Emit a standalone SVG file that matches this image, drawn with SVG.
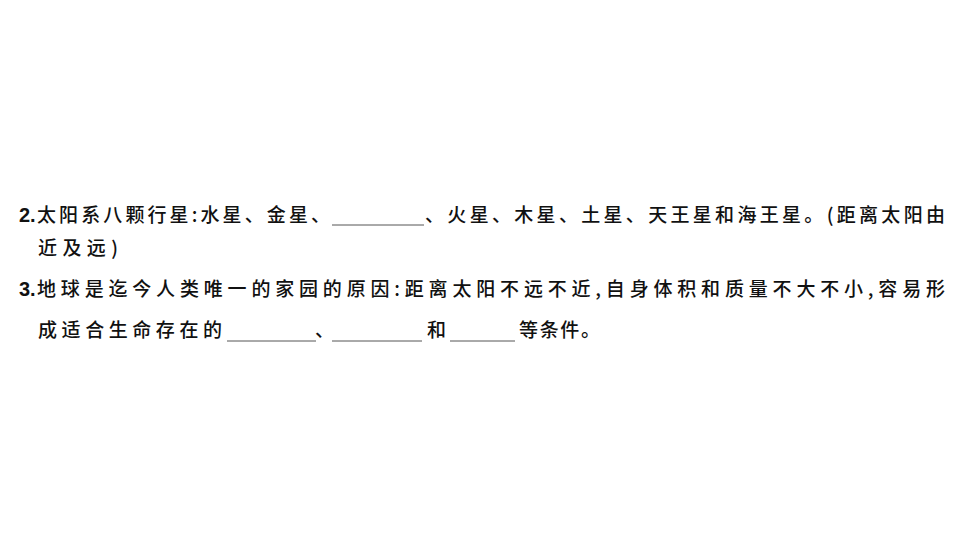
<svg xmlns="http://www.w3.org/2000/svg" width="960" height="540" viewBox="0 0 960 540">
<style>
text{font-family:"Noto Sans CJK SC","Liberation Sans",sans-serif;font-size:19px;fill:#111;font-weight:500}
.n{font-family:"Liberation Sans",Arial,sans-serif;font-weight:bold;font-size:20px}
.b{stroke:#555;stroke-width:1}
</style>
<rect width="960" height="540" fill="#fff"/>
<g id="q2">
<text class="n" x="19" y="222">2.</text>
<text x="37" y="222" textLength="293" lengthAdjust="spacing">太阳系八颗行星:水星、金星、</text>
<line class="b" x1="332" y1="225" x2="424" y2="225"/>
<text x="425" y="222" textLength="520" lengthAdjust="spacing">、火星、木星、土星、天王星和海王星。(距离太阳由</text>
<text x="38" y="255" textLength="80" lengthAdjust="spacing">近及远)</text>
</g>
<g id="q3">
<text class="n" x="19" y="296">3.</text>
<text x="37" y="296" textLength="908" lengthAdjust="spacing">地球是迄今人类唯一的家园的原因:距离太阳不远不近,自身体积和质量不大不小,容易形</text>
<text x="38" y="337" textLength="184" lengthAdjust="spacing">成适合生命存在的</text>
<line class="b" x1="227" y1="341" x2="316" y2="341"/>
<text x="315" y="337">、</text>
<line class="b" x1="332" y1="341" x2="422" y2="341"/>
<text x="427" y="337">和</text>
<line class="b" x1="450" y1="341" x2="515" y2="341"/>
<text x="519" y="337" textLength="81" lengthAdjust="spacing">等条件。</text>
</g>
</svg>
